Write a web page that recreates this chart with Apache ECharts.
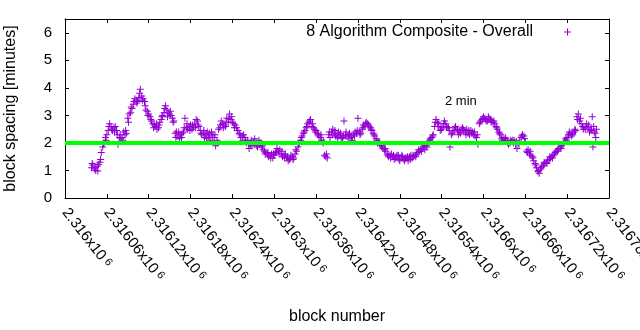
<!DOCTYPE html>
<html>
<head>
<meta charset="utf-8">
<script src="https://cdn.jsdelivr.net/npm/echarts@6/dist/echarts.min.js"></script>
<style>
  html, body { margin: 0; padding: 0; background: #fff; }
  #chart { width: 640px; height: 330px; }
</style>
</head>
<body>
<div id="chart"></div>
<script>
// Block spacing (moving average, minutes) per block, blocks counted from BLOCK_BASE.
const BLOCK_BASE = 2316000;

const blockOffsets = [
  38, 40, 42, 44, 46, 48, 50, 52, 54, 56, 58, 60, 62, 64, 66, 68, 70, 72, 74, 76,
  78, 80, 82, 84, 86, 88, 90, 92, 94, 96, 98, 100, 102, 104, 106, 108, 110, 112, 114, 116,
  118, 120, 122, 124, 126, 128, 130, 132, 134, 136, 138, 140, 142, 144, 146, 148, 150, 152, 154, 156,
  158, 160, 162, 164, 166, 168, 170, 172, 174, 176, 178, 180, 182, 184, 186, 188, 190, 192, 194, 196,
  198, 200, 202, 204, 206, 208, 210, 212, 214, 216, 218, 220, 222, 224, 226, 228, 230, 232, 234, 236,
  238, 240, 242, 244, 246, 248, 250, 252, 254, 256, 258, 260, 262, 264, 266, 268, 270, 272, 274, 276,
  278, 280, 282, 284, 286, 288, 290, 292, 294, 296, 298, 300, 302, 304, 306, 308, 310, 312, 314, 316,
  318, 320, 322, 324, 326, 328, 330, 332, 334, 336, 338, 340, 342, 344, 346, 348, 350, 352, 354, 356,
  358, 360, 362, 364, 366, 368, 370, 372, 374, 376, 378, 380, 382, 384, 386, 388, 390, 392, 394, 396,
  398, 400, 402, 404, 406, 408, 410, 412, 414, 416, 418, 420, 422, 424, 426, 428, 430, 432, 434, 436,
  438, 440, 442, 444, 446, 448, 450, 452, 454, 456, 458, 460, 462, 464, 466, 468, 470, 472, 474, 476,
  478, 480, 482, 484, 486, 488, 490, 492, 494, 496, 498, 500, 502, 504, 506, 508, 510, 512, 514, 516,
  518, 520, 522, 524, 526, 528, 530, 532, 534, 536, 538, 540, 542, 544, 546, 548, 550, 552, 554, 556,
  558, 560, 562, 564, 566, 568, 570, 572, 574, 576, 578, 580, 582, 584, 586, 588, 590, 592, 594, 596,
  598, 600, 602, 604, 606, 608, 610, 612, 614, 616, 618, 620, 622, 624, 626, 628, 630, 632, 634, 636,
  638, 640, 642, 644, 646, 648, 650, 652, 654, 656, 658, 660, 662, 664, 666, 668, 670, 672, 674, 676,
  678, 680, 682, 684, 686, 688, 690, 692, 694, 696, 698, 700, 702, 704, 706, 708, 710, 712, 714, 716,
  718, 720, 722, 724, 726, 728, 730, 732, 734, 736, 738, 740, 742, 744, 746, 748, 750, 752, 754, 756,
  758, 760, 762, 757, 761,
  39, 43, 47, 51, 55, 59, 63, 67, 71, 75, 79, 83, 87, 91, 95, 99, 103, 107, 111, 115,
  119, 123, 127, 131, 135, 139, 143, 147, 151, 155, 159, 163, 167, 171, 175, 179, 183, 187, 191, 195,
  199, 203, 207, 211, 215, 219, 223, 227, 231, 235, 239, 243, 247, 251, 255, 259, 263, 267, 271, 275,
  279, 283, 287, 291, 295, 299, 303, 307, 311, 315, 319, 323, 327, 331, 335, 339, 343, 347, 351, 355,
  359, 363, 367, 371, 375, 379, 383, 387, 391, 395, 399, 403, 407, 411, 415, 419, 423, 427, 431, 435,
  439, 443, 447, 451, 455, 459, 463, 467, 471, 475, 479, 483, 487, 491, 495, 499, 503, 507, 511, 515,
  519, 523, 527, 531, 535, 539, 543, 547, 551, 555, 559, 563, 567, 571, 575, 579, 583, 587, 591, 595,
  599, 603, 607, 611, 615, 619, 623, 627, 631, 635, 639, 643, 647, 651, 655, 659, 663, 667, 671, 675,
  679, 683, 687, 691, 695, 699, 703, 707, 711, 715, 719, 723, 727, 731, 735, 739, 743, 747, 751, 755,
  759
];

const spacingMinutes = [
  1.1, 1.2, 1.05, 1.0, 1.15, 1.22, 1.3, 1.65, 1.85, 2.0, 2.2, 2.3, 2.45, 2.7, 2.6, 2.45, 2.55, 2.6, 2.45, 1.95,
  2.2, 2.15, 2.2, 2.4, 2.3, 2.35, 2.9, 3.05, 3.1, 3.25, 3.4, 3.6, 3.55, 3.5, 3.65, 3.95, 3.7, 3.6, 3.5, 3.2,
  3.15, 3.05, 2.95, 2.8, 2.7, 2.65, 2.6, 2.5, 2.55, 2.75, 2.85, 3.0, 3.1, 3.35, 3.2, 3.1, 3.05, 3.0, 2.9, 2.8,
  2.35, 2.4, 2.25, 2.15, 2.3, 2.35, 2.4, 2.9, 2.55, 2.5, 2.6, 2.65, 2.5, 2.55, 2.7, 2.85, 2.8, 2.6, 2.45, 2.3,
  2.35, 2.2, 2.3, 2.4, 2.25, 2.1, 2.4, 2.3, 2.2, 1.9, 2.1, 2.5, 2.55, 2.8, 2.7, 2.65, 2.6, 2.9, 2.75, 3.05,
  2.85, 2.75, 2.7, 2.65, 2.55, 2.45, 2.35, 2.2, 2.25, 2.3, 2.2, 2.0, 2.1, 1.8, 1.95, 1.9, 2.05, 2.15, 2.0, 1.85,
  2.1, 2.0, 1.85, 1.75, 1.7, 1.65, 1.6, 1.5, 1.55, 1.6, 1.45, 1.55, 1.65, 1.8, 1.7, 1.75, 1.6, 1.5, 1.55, 1.6,
  1.45, 1.35, 1.4, 1.55, 1.5, 1.45, 1.6, 1.7, 1.85, 2.0, 2.1, 2.25, 2.35, 2.45, 2.55, 2.7, 2.75, 2.85, 2.6, 2.55,
  2.5, 2.45, 2.35, 2.25, 2.2, 2.1, 2.0, 1.55, 1.5, 1.45, 2.3, 2.2, 2.4, 2.5, 2.35, 2.25, 2.25, 2.4, 2.3, 2.15,
  2.2, 2.8, 2.3, 2.25, 2.15, 2.35, 2.25, 2.1, 2.3, 2.4, 2.35, 2.9, 2.4, 2.35, 2.5, 2.65, 2.6, 2.75, 2.7, 2.6,
  2.55, 2.45, 2.35, 2.25, 2.15, 2.0, 2.05, 1.95, 1.9, 1.8, 1.75, 1.7, 1.6, 1.5, 1.55, 1.6, 1.5, 1.4, 1.45, 1.55,
  1.55, 1.35, 1.45, 1.5, 1.4, 1.45, 1.45, 1.35, 1.5, 1.55, 1.45, 1.5, 1.55, 1.6, 1.65, 1.7, 1.75, 1.8, 1.85, 1.75,
  1.9, 2.0, 2.05, 2.15, 2.2, 2.3, 2.6, 2.85, 2.75, 2.7, 2.45, 2.5, 2.6, 2.8, 2.7, 2.55, 2.55, 1.85, 2.3, 2.4,
  2.45, 2.6, 2.5, 2.3, 2.4, 2.5, 2.55, 2.45, 2.4, 2.5, 2.35, 2.3, 2.45, 2.4, 2.3, 2.25, 2.2, 1.95, 2.7, 2.8,
  2.85, 2.95, 2.9, 2.8, 2.8, 2.9, 2.85, 2.8, 2.75, 2.7, 2.6, 2.5, 2.4, 2.3, 2.15, 2.2, 2.1, 2.15, 2.05, 1.95,
  2.0, 2.05, 2.1, 2.1, 1.95, 1.8, 2.0, 2.05, 2.2, 2.3, 2.25, 2.05, 1.7, 1.75, 1.6, 1.55, 1.5, 1.35, 1.25, 1.1,
  0.95, 0.9, 1.05, 1.15, 1.2, 1.25, 1.3, 1.35, 1.4, 1.45, 1.5, 1.55, 1.6, 1.7, 1.7, 1.8, 1.85, 1.9, 1.95, 2.05,
  2.15, 2.2, 2.3, 2.35, 2.25, 2.3, 2.4, 2.45, 2.95, 3.05, 2.8, 2.7, 2.6, 2.55, 2.5, 2.7, 2.55, 2.4, 2.45, 2.95,
  2.6, 2.35, 2.5, 1.85, 2.2,
  1.25, 1.1, 0.98, 1.4, 1.95, 2.1, 2.6, 2.5, 2.4, 2.3, 2.3, 2.1, 2.45, 2.75, 3.3, 3.5, 3.45, 3.8, 3.55, 3.35,
  3.0, 2.85, 2.55, 2.7, 2.65, 2.95, 3.25, 2.95, 3.15, 2.75, 2.2, 2.4, 2.2, 2.55, 2.7, 2.45, 2.65, 2.55, 2.65, 2.35,
  2.45, 2.15, 2.35, 2.2, 2.3, 2.0, 2.65, 2.55, 2.75, 2.9, 2.95, 2.55, 2.45, 2.3, 2.1, 2.05, 1.95, 2.1, 1.95, 1.9,
  1.95, 1.9, 1.6, 1.65, 1.45, 1.6, 1.7, 1.6, 1.7, 1.45, 1.5, 1.45, 1.4, 1.75, 1.95, 2.2, 2.4, 2.6, 2.8, 2.7,
  2.4, 2.3, 2.3, 2.05, 1.6, 2.4, 2.3, 2.45, 2.2, 2.35, 2.25, 2.4, 2.3, 2.2, 2.25, 2.45, 2.3, 2.55, 2.7, 2.65,
  2.5, 2.3, 2.1, 2.0, 1.85, 1.8, 1.55, 1.45, 1.55, 1.5, 1.4, 1.55, 1.35, 1.5, 1.4, 1.55, 1.5, 1.75, 1.7, 1.9,
  1.85, 2.1, 2.25, 2.75, 2.6, 2.55, 2.7, 2.6, 2.45, 2.35, 2.55, 2.45, 2.35, 2.5, 2.3, 2.45, 2.35, 2.4, 2.3, 2.75,
  2.9, 2.85, 2.95, 2.75, 2.8, 2.55, 2.35, 2.1, 2.2, 2.0, 2.1, 2.0, 2.05, 1.95, 2.25, 2.15, 1.65, 1.7, 1.45, 1.2,
  1.0, 1.1, 1.3, 1.25, 1.5, 1.45, 1.65, 1.75, 1.8, 2.0, 2.1, 2.4, 2.35, 2.5, 2.85, 2.9, 2.5, 2.6, 2.65, 2.5,
  2.4
];

// Target spacing drawn as a horizontal reference line.
const targetMinutes = 2;

// X tick mantissas (value = mantissa x 10^6), one per 60 blocks.
const xTickMantissas = [
  '2.316', '2.31606', '2.31612', '2.31618', '2.31624', '2.3163', '2.31636',
  '2.31642', '2.31648', '2.31654', '2.3166', '2.31666', '2.31672', '2.31678'
];
const X_STEP = 60;
const X_MIN = BLOCK_BASE;
const X_MAX = BLOCK_BASE + X_STEP * (xTickMantissas.length - 1);

const SERIES_NAME = '8 Algorithm Composite - Overall';
const FONT = "'Liberation Sans', Arial, sans-serif";
const PLUS = 'path://M3,0H4V3H7V4H4V7H3V4H0V3H3Z';

const points = blockOffsets.map((o, i) => [BLOCK_BASE + o, spacingMinutes[i]]);

const frameLine = { show: true, onZero: false, lineStyle: { color: '#000', width: 1 } };
const frameTick = { show: true, inside: true, length: 4, lineStyle: { color: '#000', width: 1 } };

const chart = echarts.init(document.getElementById('chart'), null, { renderer: 'canvas' });

chart.setOption({
  animation: false,
  backgroundColor: '#fff',
  grid: { left: 65, right: 31, top: 19, bottom: 132, outerBoundsMode: 'none', containLabel: false },
  legend: {
    data: [{ name: SERIES_NAME }],
    right: 69,
    top: 24,
    padding: 0,
    align: 'right',
    itemWidth: 7,
    itemHeight: 7,
    selectedMode: false,
    textStyle: { fontFamily: FONT, fontSize: 16, color: '#000', padding: [0, 26, 0, 0] }
  },
  xAxis: [
    {
      type: 'value', position: 'bottom', min: X_MIN, max: X_MAX, interval: X_STEP,
      axisLine: frameLine, axisTick: frameTick, splitLine: { show: false },
      axisLabel: {
        rotate: -52,
        margin: 12,
        showMinLabel: true,
        showMaxLabel: true,
        hideOverlap: false,
        formatter: (v) => {
          const idx = Math.round((v - X_MIN) / X_STEP);
          return '{m|' + xTickMantissas[idx] + 'x10}{e|6}';
        },
        rich: {
          m: { fontFamily: FONT, fontSize: 15, color: '#000' },
          e: { fontFamily: FONT, fontSize: 11, color: '#000', verticalAlign: 'top', padding: [0, 0, 0, 3] }
        }
      },
      name: 'block number',
      nameLocation: 'middle',
      nameGap: 111,
      nameTextStyle: { fontFamily: FONT, fontSize: 16, color: '#000' }
    },
    {
      type: 'value', position: 'top', min: X_MIN, max: X_MAX, interval: X_STEP,
      axisLine: frameLine, axisTick: frameTick, splitLine: { show: false },
      axisLabel: { show: false }
    }
  ],
  yAxis: [
    {
      type: 'value', position: 'left', min: 0, max: 6.5, interval: 1,
      axisLine: frameLine, axisTick: frameTick, splitLine: { show: false },
      axisLabel: { fontFamily: FONT, fontSize: 15, color: '#000', margin: 13, showMaxLabel: false },
      name: 'block spacing [minutes]',
      nameLocation: 'middle',
      nameRotate: 90,
      nameGap: 46,
      nameTextStyle: { fontFamily: FONT, fontSize: 16, color: '#000' }
    },
    {
      type: 'value', position: 'right', min: 0, max: 6.5, interval: 1,
      axisLine: frameLine, axisTick: frameTick, splitLine: { show: false },
      axisLabel: { show: false }
    }
  ],
  series: [
    {
      name: SERIES_NAME,
      type: 'scatter',
      data: points,
      symbol: PLUS,
      symbolSize: 7,
      itemStyle: { color: '#9400d3', opacity: 1 },
      z: 2
    },
    {
      name: 'target',
      type: 'line',
      data: [[X_MIN, targetMinutes], [X_MAX, targetMinutes]],
      symbol: 'none',
      lineStyle: { color: '#00ff00', width: 4 },
      z: 3
    }
  ],
  graphic: [
    {
      type: 'text',
      left: 445,
      top: 95,
      style: { text: targetMinutes + ' min', fontFamily: FONT, fontSize: 13, fill: '#000' }
    }
  ]
});
</script>
</body>
</html>
